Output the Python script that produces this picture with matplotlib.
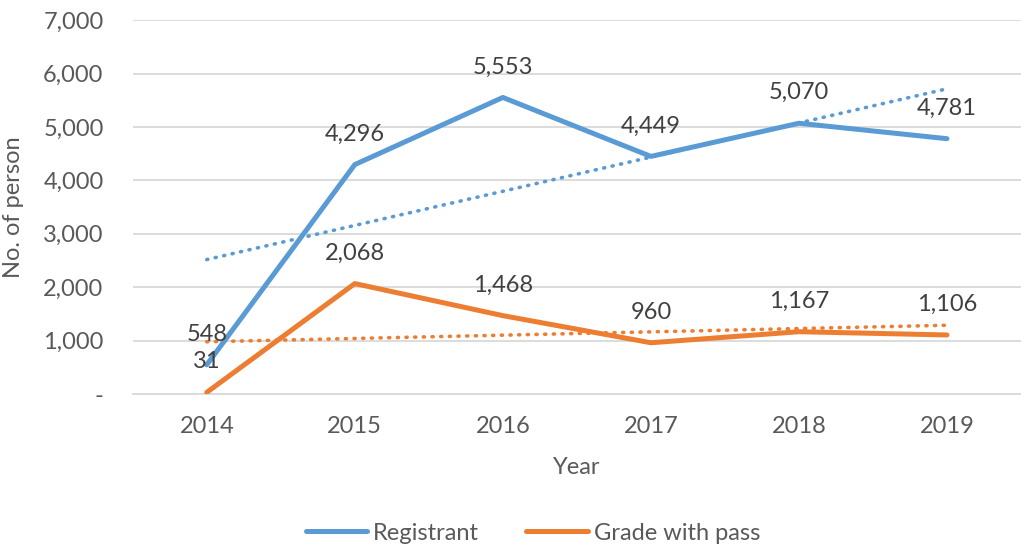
import matplotlib.pyplot as plt
import numpy as np

plt.rcParams['font.family'] = ['Lato', 'DejaVu Sans']

# Dati
years = ['2014', '2015', '2016', '2017', '2018', '2019']
registrant = [548, 4296, 5553, 4449, 5070, 4781]
grade_pass = [31, 2068, 1468, 960, 1167, 1106]

blue = '#5B9BD5'
orange = '#ED7D31'
txt = '#595959'
fs = 17

x = np.arange(len(years))

fig = plt.figure(figsize=(10.21, 5.45), dpi=100)
ax = fig.add_axes([0.130, 0.277, 0.870, 0.686])

ax.plot(x, registrant, color=blue, lw=3.6, solid_capstyle='round', label='Registrant', zorder=3)
ax.plot(x, grade_pass, color=orange, lw=3.6, solid_capstyle='round', label='Grade with pass', zorder=3)

# Linee di tendenza (regressione lineare)
for ys, c in [(registrant, blue), (grade_pass, orange)]:
    m, q = np.polyfit(x, ys, 1)
    ax.plot(x, m * x + q, color=c, lw=2.6, linestyle=(0, (0.3, 2.1)),
            dash_capstyle='round', zorder=2)

# Etichette dei valori
for ys in (registrant, grade_pass):
    for xi, yi in zip(x, ys):
        ax.annotate(f'{yi:,}', (xi, yi), xytext=(0, 22), textcoords='offset points',
                    ha='center', va='center', fontsize=fs, color='#404040', zorder=4)

ax.set_xlim(-0.5, 5.5)
ax.set_ylim(0, 7000)
ax.set_xticks(x)
ax.set_xticklabels(years)
yt = np.arange(0, 7001, 1000)
ax.set_yticks(yt)
ax.set_yticklabels(['-'] + [f'{v:,}' for v in yt[1:]])
ax.tick_params(axis='both', length=0, labelsize=fs, colors=txt)
ax.tick_params(axis='x', pad=16)
ax.tick_params(axis='y', pad=21)

ax.grid(axis='y', color='#D9D9D9', lw=1.3)
ax.set_axisbelow(True)
for s in ['top', 'right', 'left']:
    ax.spines[s].set_visible(False)
ax.spines['bottom'].set_color('#D9D9D9')
ax.spines['bottom'].set_linewidth(1.3)

ax.set_xlabel('Year', fontsize=fs, color=txt, labelpad=14)
ax.set_ylabel('No. of person', fontsize=fs, color=txt, labelpad=14)

fig.legend(loc='center', bbox_to_anchor=(0.522, 0.022), ncol=2, frameon=False,
           fontsize=fs, labelcolor=txt, handlelength=2.6, handletextpad=0.25,
           columnspacing=2.0)

plt.savefig('out.png', dpi=100)
